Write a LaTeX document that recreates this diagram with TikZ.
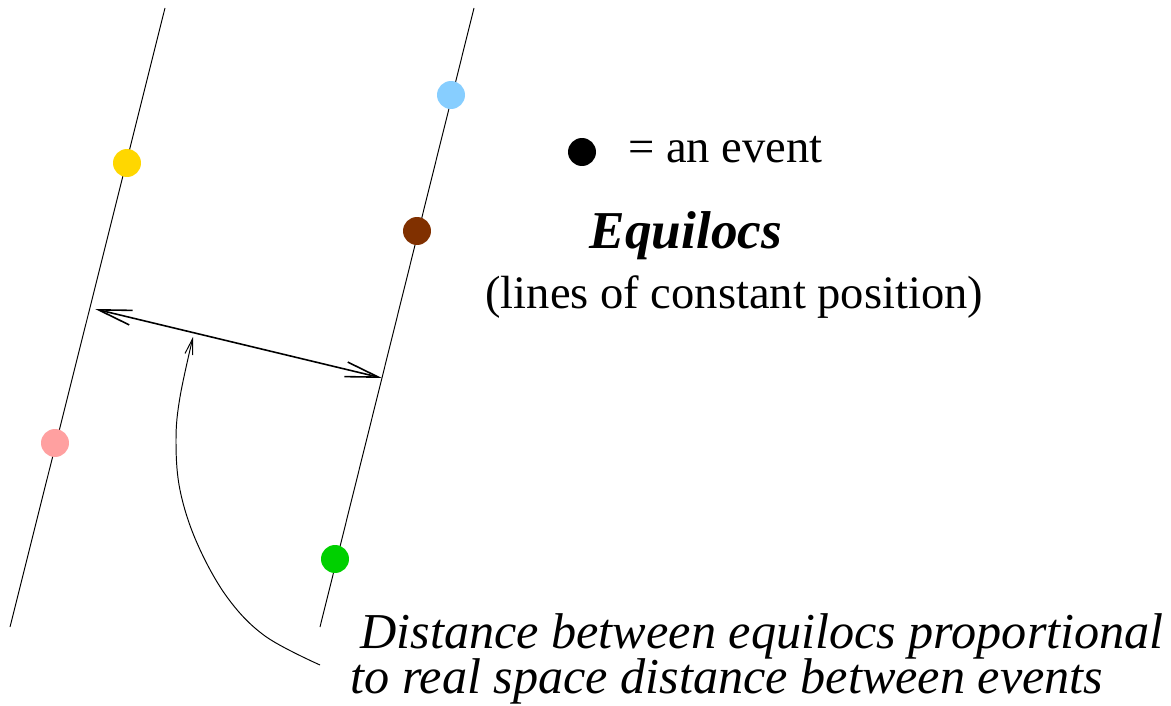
\documentclass[tikz,border=0pt]{standalone}
\usepackage{fontspec}
\setmainfont{Liberation Serif}
\usetikzlibrary{arrows.meta}
\definecolor{evyellow}{HTML}{FFD700}
\definecolor{evpink}{HTML}{FFA0A0}
\definecolor{evblue}{HTML}{87CEFF}
\definecolor{evbrown}{HTML}{803000}
\definecolor{evgreen}{HTML}{00D000}
\tikzset{
  event/.style={circle, fill=#1, draw=none, minimum size=0.56cm, inner sep=0pt},
  equiloc/.style={line width=0.55pt},
  bigarrow/.style={line width=0.9pt, {Straight Barb[length=19pt,width=8.5pt]}-{Straight Barb[length=19pt,width=8.5pt]}},
  smallarrow/.style={line width=0.55pt, -{Straight Barb[length=9pt,width=4.5pt]}},
  lbl/.style={inner sep=0pt, anchor=base west, font=\fontsize{26.5}{30}\selectfont},
  ilbl/.style={inner sep=0pt, anchor=base west, font=\fontsize{28.6}{33}\selectfont\itshape}
}
\begin{document}
\begin{tikzpicture}[x=0.02cm, y=-0.02cm]
\useasboundingbox (0,0) rectangle (1171,706);
% equilocs
\coordinate (L1) at (165,8);
\coordinate (L2) at (10,627);
\coordinate (R1) at (474,8);
\coordinate (R2) at (320,627);
\draw[equiloc] (L1) -- (L2);
\draw[equiloc] (R1) -- (R2);
% events
\node[event=evyellow] (ey) at (127,163) {};
\node[event=evpink] (ep) at (55,443) {};
\node[event=evblue] (eb) at (451,95) {};
\node[event=evbrown] (ebr) at (417,231) {};
\node[event=evgreen] (eg) at (335,559) {};
% distance arrow
\coordinate (DA) at (95,309);
\coordinate (DB) at (382,378);
\draw[bigarrow] (DA) -- (DB);
% curved pointer
\coordinate (CS) at (320,665);
\coordinate (CE) at (193,337);
\draw[smallarrow] plot[smooth, tension=0.6] coordinates {(320,665) (265,636) (227,597) (197,543) (180,490) (176,440) (180,397) (193,337)};
% legend
\node[event=black] (key) at (582,152) {};
\node[lbl] (keytxt) at (628,163) {= an event};
\node[inner sep=0pt, anchor=base, font=\fontsize{30.3}{34}\selectfont\bfseries\itshape] (title) at (686,249) {Equilocs};
\node[lbl] (sub) at (485,308) {(lines of constant position)};
\node[ilbl] (d1) at (360,648) {Distance between equilocs proportional};
\node[ilbl] (d2) at (350,693) {to real space distance between events};
\end{tikzpicture}
\end{document}
